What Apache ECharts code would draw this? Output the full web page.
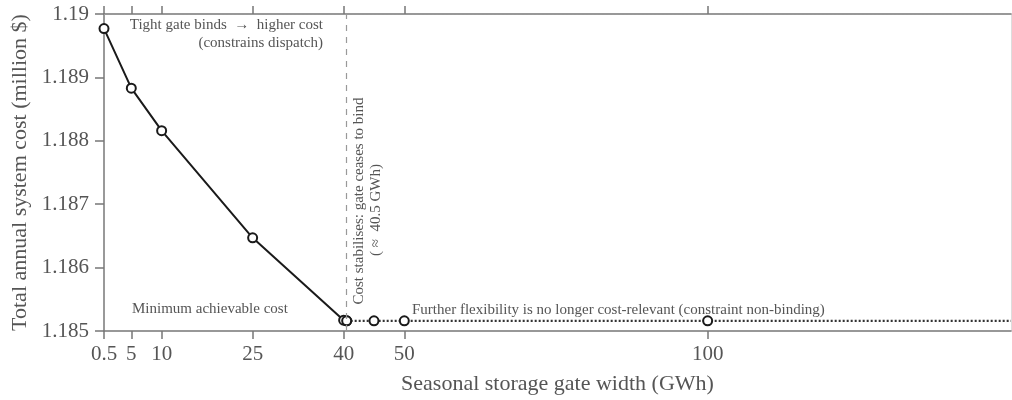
<!DOCTYPE html>
<html><head><meta charset="utf-8">
<script src="https://cdn.jsdelivr.net/npm/echarts@6/dist/echarts.min.js"></script>
<style>html,body{margin:0;padding:0;background:#fff}#c{width:1012px;height:400px}</style>
</head><body><div id="c"></div>
<script>
// ---- data ----
const gateWidth = [0.5, 5, 10, 25, 40, 40.5, 45, 50, 100];
const totalCost = [1.18977, 1.18883, 1.18816, 1.18647, 1.18517, 1.18516, 1.18516, 1.18516, 1.18516];
const xTicks = [0.5, 5, 10, 25, 40, 50, 100];
const yTicks = [1.185, 1.186, 1.187, 1.188, 1.189, 1.19];
const bindingThreshold = 40.5;
const minCost = 1.18516;
const xMax = 150;
const texts = {
  tight1: 'Tight gate binds  \u2192  higher cost',
  tight2: '(constrains dispatch)',
  stab1: 'Cost stabilises: gate ceases to bind',
  stab2: '( \u2248  40.5 GWh)',
  minLbl: 'Minimum achievable cost',
  further: 'Further flexibility is no longer cost-relevant (constraint non-binding)',
  xName: 'Seasonal storage gate width (GWh)',
  yName: 'Total annual system cost (million $)'
};

const FONT = '"Liberation Serif", "DejaVu Serif", serif';
const axisCol = '#777';
const txtCol = '#555';

const pairs = gateWidth.map((x, i) => [x, totalCost[i]]);
const idx = gateWidth.indexOf(bindingThreshold);
const risingPart = pairs.slice(0, idx + 1);
const plateauPart = pairs.slice(idx).concat([{value: [xMax, minCost], symbol: 'none'}]);

const chart = echarts.init(document.getElementById('c'));
const baseX = {
  type: 'value', min: 0.5, max: xMax,
  splitLine: {show: false},
  axisLine: {show: true, lineStyle: {color: axisCol, width: 1.5}},
  axisTick: {show: true, inside: false, length: 8, customValues: xTicks, lineStyle: {color: axisCol, width: 1.5}}
};
chart.setOption({
  animation: false,
  backgroundColor: '#fff',
  grid: {left: 104, right: 1, top: 14, bottom: 69},
  xAxis: [
    Object.assign({}, baseX, {
      position: 'bottom',
      name: texts.xName, nameLocation: 'middle', nameGap: 42,
      nameTextStyle: {fontFamily: FONT, fontSize: 22, color: txtCol},
      axisLabel: {show: true, customValues: xTicks, fontFamily: FONT, fontSize: 21, color: txtCol, margin: 13,
        formatter: v => String(v)}
    }),
    Object.assign({}, baseX, {position: 'top', axisLabel: {show: false}})
  ],
  yAxis: [
    {
      type: 'value', min: 1.185, max: 1.19, interval: 0.001,
      name: texts.yName, nameLocation: 'middle', nameGap: 72,
      nameTextStyle: {fontFamily: FONT, fontSize: 22, color: txtCol},
      splitLine: {show: false},
      axisLine: {show: true, lineStyle: {color: axisCol, width: 1.5}},
      axisTick: {show: true, length: 9, lineStyle: {color: axisCol, width: 1.5}},
      axisLabel: {fontFamily: FONT, fontSize: 21, color: txtCol, margin: 15,
        formatter: v => String(+v.toFixed(3))}
    },
    {
      type: 'value', min: 1.185, max: 1.19, position: 'right',
      splitLine: {show: false}, axisTick: {show: false}, axisLabel: {show: false},
      axisLine: {show: true, lineStyle: {color: '#ddd', width: 1}}
    }
  ],
  series: [
    {
      type: 'line', name: 'plateau', data: plateauPart, z: 3,
      symbol: 'circle', symbolSize: 9,
      itemStyle: {color: '#fff', borderColor: '#1a1a1a', borderWidth: 2},
      lineStyle: {color: '#333', width: 2.2, type: [2, 2]}
    },
    {
      type: 'line', name: 'cost', data: risingPart, z: 4,
      symbol: 'circle', symbolSize: 9,
      itemStyle: {color: '#fff', borderColor: '#1a1a1a', borderWidth: 2},
      lineStyle: {color: '#1a1a1a', width: 2},
      markLine: {
        silent: true, symbol: 'none', label: {show: false},
        data: [
          {xAxis: bindingThreshold, lineStyle: {color: '#999', width: 1.2, type: [6, 6]}},
          {yAxis: minCost, lineStyle: {color: '#999', width: 1.2, type: [2, 2]}}
        ]
      }
    }
  ],
  graphic: [
    {type: 'text', right: 1012 - 323, top: 18, style: {text: texts.tight1, font: '15px ' + FONT, fill: txtCol, textAlign: 'right'}},
    {type: 'text', right: 1012 - 323, top: 36, style: {text: texts.tight2, font: '15px ' + FONT, fill: txtCol, textAlign: 'right'}},
    {type: 'text', x: 359, y: 201, rotation: Math.PI / 2, style: {text: texts.stab1, font: '15px ' + FONT, fill: txtCol, align: 'center', verticalAlign: 'middle'}},
    {type: 'text', x: 376, y: 210, rotation: Math.PI / 2, style: {text: texts.stab2, font: '15px ' + FONT, fill: txtCol, align: 'center', verticalAlign: 'middle'}},
    {type: 'text', x: 132, y: 309, style: {text: texts.minLbl, font: '15px ' + FONT, fill: txtCol, verticalAlign: 'middle'}},
    {type: 'text', x: 412, y: 310, style: {text: texts.further, font: '15px ' + FONT, fill: txtCol, verticalAlign: 'middle'}}
  ]
});
</script></body></html>
